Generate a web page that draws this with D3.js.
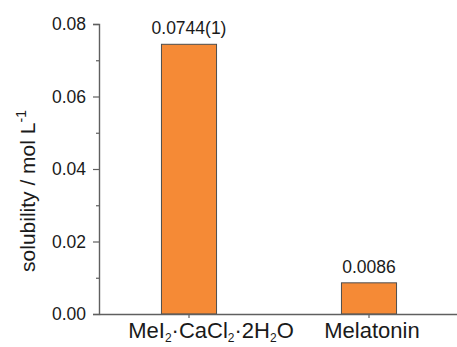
<!DOCTYPE html>
<html>
<head>
<meta charset="utf-8">
<script src="https://cdn.jsdelivr.net/npm/d3@7"></script>
<style>
  html, body { margin: 0; padding: 0; background: #fff; }
  svg { display: block; }
  text { font-family: Arial, "Liberation Sans", Helvetica, sans-serif; fill: #1a1a1a; }
</style>
</head>
<body>
<svg id="chart" width="457" height="347"></svg>
<script>
// ---- data ----
const categories = ["MeI2·CaCl2·2H2O", "Melatonin"];
const solubility = [0.0744, 0.0086];
const valueLabels = ["0.0744(1)", "0.0086"];
const majorTicks = [0.00, 0.02, 0.04, 0.06, 0.08];
const minorTicks = [0.01, 0.03, 0.05, 0.07];
const yDomain = [0, 0.08];
const yTitle = "solubility / mol L";
const yTitleSup = "-1";

// ---- layout / style ----
const W = 457, H = 347;
const m = { left: 99, right: -2, top: 24, bottom: 33 };
const axisColor = "#5f5f5f";
const barFill = "#F58A36";
const barStroke = "#4d4d4d";
const catLabelDx = [22, 3];

const svg = d3.select("#chart");

const x = d3.scaleBand()
  .domain(categories)
  .range([m.left, W - m.right])
  .paddingInner(0.694)
  .paddingOuter(0.347);

const y = d3.scaleLinear()
  .domain(yDomain)
  .range([H - m.bottom, m.top]);

// bars
svg.append("g").selectAll("rect")
  .data(categories)
  .join("rect")
  .attr("x", d => x(d))
  .attr("y", (d, i) => y(solubility[i]))
  .attr("width", x.bandwidth())
  .attr("height", (d, i) => y(0) - y(solubility[i]))
  .attr("fill", barFill)
  .attr("stroke", barStroke)
  .attr("stroke-width", 1);

// value labels
svg.append("g").selectAll("text")
  .data(categories)
  .join("text")
  .attr("x", d => x(d) + x.bandwidth() / 2)
  .attr("y", (d, i) => y(solubility[i]) - 10)
  .attr("text-anchor", "middle")
  .attr("font-size", 17.5)
  .text((d, i) => valueLabels[i]);

// y axis (major)
const yAxisG = svg.append("g")
  .attr("transform", `translate(${m.left},0)`)
  .call(d3.axisLeft(y).tickValues(majorTicks).tickFormat(d3.format(".2f")).tickSize(6).tickPadding(7));
yAxisG.select(".domain").attr("stroke", axisColor).attr("stroke-width", 1.4);
yAxisG.selectAll(".tick line").attr("stroke", axisColor).attr("stroke-width", 1.2);
yAxisG.selectAll(".tick text").attr("font-size", 17.5).attr("font-family", "Arial, 'Liberation Sans', sans-serif").attr("fill", "#1a1a1a");

// y axis (minor)
const yMinorG = svg.append("g")
  .attr("transform", `translate(${m.left},0)`)
  .call(d3.axisLeft(y).tickValues(minorTicks).tickFormat("").tickSize(3));
yMinorG.select(".domain").remove();
yMinorG.selectAll(".tick line").attr("stroke", axisColor).attr("stroke-width", 1.2);

// x axis
const xAxisG = svg.append("g")
  .attr("transform", `translate(0,${y(0)})`)
  .call(d3.axisBottom(x).tickSize(4).tickSizeOuter(0).tickFormat(""));
xAxisG.select(".domain").attr("stroke", axisColor).attr("stroke-width", 1.4);
xAxisG.selectAll(".tick line").attr("stroke", axisColor).attr("stroke-width", 1.2);

// category labels with subscripts
function addFormula(sel, str) {
  const parts = [];
  for (let i = 0; i < str.length; i++) {
    const c = str[i];
    if (/[0-9]/.test(c) && i > 0 && /[A-Za-z]/.test(str[i - 1])) {
      parts.push({ t: c, sub: true });
    } else {
      if (parts.length && !parts[parts.length - 1].sub) parts[parts.length - 1].t += c;
      else parts.push({ t: c, sub: false });
    }
  }
  let prevSub = false;
  parts.forEach(p => {
    const ts = sel.append("tspan").text(p.t);
    if (p.sub) ts.attr("font-size", 12).attr("dy", 4);
    else if (prevSub) ts.attr("dy", -4);
    prevSub = p.sub;
  });
}

const catG = svg.append("g");
categories.forEach((c, i) => {
  const t = catG.append("text")
    .attr("x", x(c) + x.bandwidth() / 2 + catLabelDx[i])
    .attr("y", 338)
    .attr("text-anchor", "middle")
    .attr("font-size", 22);
  addFormula(t, c);
});

// y title
const yt = svg.append("text")
  .attr("transform", `translate(35,${(y(0) + y(0.08)) / 2 + 22}) rotate(-90)`)
  .attr("text-anchor", "middle")
  .attr("font-size", 21);
yt.append("tspan").text(yTitle);
yt.append("tspan").text(yTitleSup).attr("font-size", 14).attr("dy", -9);
</script>
</body>
</html>
